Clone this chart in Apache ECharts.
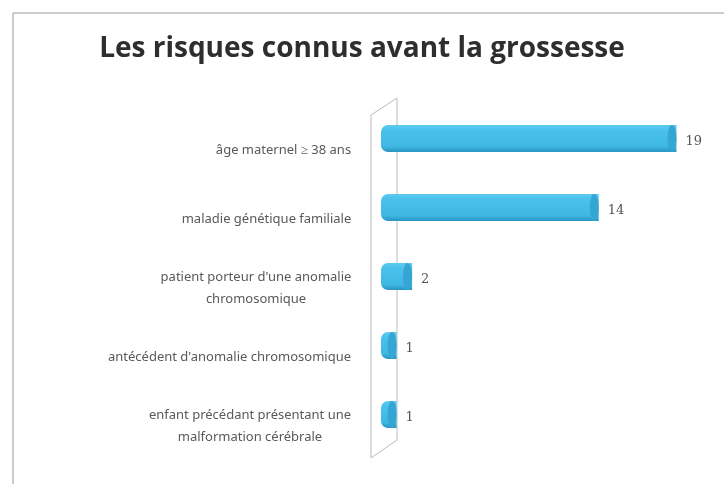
<!DOCTYPE html>
<html>
<head>
<meta charset="utf-8">
<script src="https://cdn.jsdelivr.net/npm/echarts@6/dist/echarts.min.js"></script>
<style>
  html, body { margin: 0; padding: 0; background: #fff; }
  #chart { width: 724px; height: 484px; }
</style>
</head>
<body>
<div id="chart"></div>
<script>
// données
const titleText = "Les risques connus avant la grossesse";
const categories = [
  "âge maternel ≥ 38 ans",
  "maladie génétique familiale",
  "patient porteur d'une anomalie\nchromosomique",
  "antécédent d'anomalie chromosomique",
  "enfant précédant présentant une\nmalformation cérébrale"
];
const values = [19, 14, 2, 1, 1];

const labelFont = "13px 'Noto Sans'";
const chart = echarts.init(document.getElementById("chart"), null, { renderer: "canvas" });

// mesure des lignes pour centrer la 2e ligne sous la 1re
const ctx = document.createElement("canvas").getContext("2d");
ctx.font = labelFont;
const rich = {};
categories.forEach((c, i) => {
  const w = Math.max(...c.split("\n").map(l => ctx.measureText(l).width));
  rich["c" + i] = { width: Math.ceil(w) + 1, align: "center", fontSize: 13, fontFamily: "Noto Sans", color: "#595959", lineHeight: 22 };
});

const barColor = new echarts.graphic.LinearGradient(0, 0, 0, 1, [
  { offset: 0, color: "#5ecaf0" },
  { offset: 0.2, color: "#4ac1ec" },
  { offset: 0.8, color: "#3eb7e3" },
  { offset: 1, color: "#2994c2" }
]);

const option = {
  backgroundColor: "#fff",
  animation: false,
  title: {
    text: titleText,
    left: "center",
    top: 30,
    textStyle: { fontFamily: "Open Sans", fontSize: 28, fontWeight: "bold", color: "#2e2e2e" }
  },
  grid: { left: 381, right: 32, top: 104, bottom: 35 },
  xAxis: { type: "value", min: 0, max: 20, show: false },
  yAxis: {
    type: "category",
    data: categories,
    inverse: true,
    axisLine: { show: false },
    axisTick: { show: false },
    axisLabel: {
      margin: 29,
      padding: [24, 0, 0, 0],
      formatter: (v, i) => v.split("\n").map(l => "{c" + i + "|" + l + "}").join("\n"),
      rich: rich
    }
  },
  series: [
    {
      type: "bar",
      data: values,
      barWidth: 27,
      itemStyle: { color: barColor, borderRadius: [7, 0, 0, 7] },
      label: {
        show: true,
        position: "right",
        distance: 9,
        offset: [0, 3],
        fontFamily: "DejaVu Serif",
        fontSize: 13,
        color: "#555"
      },
      z: 2
    },
    {
      type: "pictorialBar",
      data: values,
      symbol: "circle",
      symbolSize: [9, 27],
      symbolPosition: "end",
      itemStyle: { color: "#35a5d3" },
      z: 3
    }
  ]
};
chart.setOption(option);

// paroi 3D de l'axe + cadre
const x0 = chart.convertToPixel({ xAxisIndex: 0 }, 0);
const gTop = 104, gBot = 484 - 35;
const front = { x: x0 - 10, t: gTop + 11, b: gBot + 9 };
const back = { x: x0 + 16, t: gTop - 6, b: gBot - 9 };
const wallStyle = { stroke: "#bbbbbb", lineWidth: 1, fill: null };
chart.setOption({
  graphic: [
    { type: "polyline", z: 1, silent: true, shape: { points: [[13, 484], [13, 13], [724, 13]] }, style: { stroke: "#9a9a9a", lineWidth: 1, fill: null } },
    { type: "polyline", z: 1, silent: true, shape: { points: [[back.x, back.b], [back.x, back.t], [front.x, front.t], [front.x, front.b], [back.x, back.b]] }, style: wallStyle }
  ]
});
</script>
</body>
</html>
